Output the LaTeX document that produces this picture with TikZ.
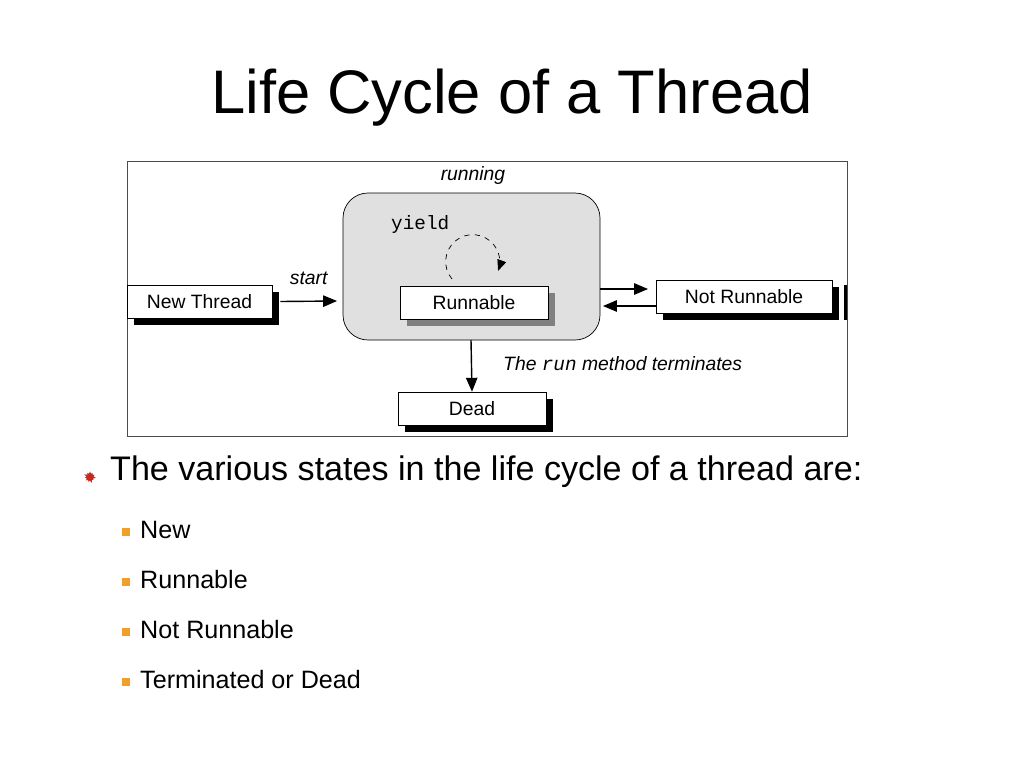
\documentclass[tikz,border=0pt]{standalone}
\usepackage{fontspec}
\setmainfont{Liberation Sans}
\setmonofont{Liberation Mono}
\usetikzlibrary{arrows,positioning,shapes.symbols}
\definecolor{bulletorange}{RGB}{240,160,40}
\definecolor{bulletred}{RGB}{200,40,30}

\begin{document}
\begin{tikzpicture}[x=0.02cm,y=-0.02cm]

\tikzset{statebox/.style={draw,fill=white,font=\fontsize{11}{12}\selectfont,inner sep=0pt,minimum height=0.66cm},
shadowbox/.style={fill=black},
note/.style={font=\fontsize{11}{12}\selectfont\itshape},
subitem/.style={anchor=west,font=\fontsize{14.3}{16}\selectfont},
square/.style={fill=bulletorange,inner sep=0pt,minimum size=0.16cm}}

\useasboundingbox (0,0) rectangle (1024,768);

% Title
\node (title) at (512,98) {\fontsize{35}{40}\selectfont Life Cycle of a Thread};

% Frame
\draw[black!70] (127,161) rectangle (847,436);
\node[note] (running) at (473,175) {running};
\draw[rounded corners=0.5cm,fill=black!12] (343,193) rectangle (600,340);
\node[anchor=west,font=\fontsize{11}{12}\selectfont\ttfamily] (yield) at (385,224) {yield};

% shadows
\fill[black!50] (407,293) rectangle (555,326);
\fill[shadowbox] (134,292) rectangle (279,325);
\fill[shadowbox] (663,287) rectangle (839,320);
\fill[shadowbox] (405,399) rectangle (553,432);
\fill[shadowbox] (844,285) rectangle (847,320);

% states
\node[statebox,minimum width=2.96cm] (runnable) at (474,302.5) {Runnable};
\node[statebox,minimum width=2.9cm] (new) at (199.5,301.5) {New Thread};
\node[statebox,minimum width=3.52cm] (notrun) at (744,296.5) {Not Runnable};
\node[statebox,minimum width=2.96cm] (dead) at (472,408.5) {Dead};

% dashed loop
\draw[dashed,-triangle 45] (452,279) arc (140:380:27);

% Edges
\coordinate (startend) at (337,301);
\draw[thick,-triangle 45] (new.east) ++(8,0) -- (startend) node[midway,above=2mm,note] (start) {start};
\draw[thick,-triangle 45] (600,289) -- (648,289);
\draw[thick,-triangle 45] (notrun.west |- 306,306) -- (603,306);
\draw[thick,-triangle 45] (471,340) -- (dead.north);
\node[note,anchor=west] (term) at (497,364) {The \texttt{run} method terminates};

% Bullets
\node[starburst,starburst points=11,starburst point height=0.06cm,fill=bulletred,inner sep=0pt,minimum size=0.26cm] (b0) at (90,477) {};
\node[anchor=west,font=\fontsize{19.4}{22}\selectfont] (intro) at (104,472) {The various states in the life cycle of a thread are:};
\foreach \y/\t in {530/New,580/Runnable,630/Not Runnable,680/Terminated or Dead}{
  \node[square] at (126,\y+2) {};
  \node[subitem] at (134,\y) {\t};
}
\end{tikzpicture}
\end{document}
